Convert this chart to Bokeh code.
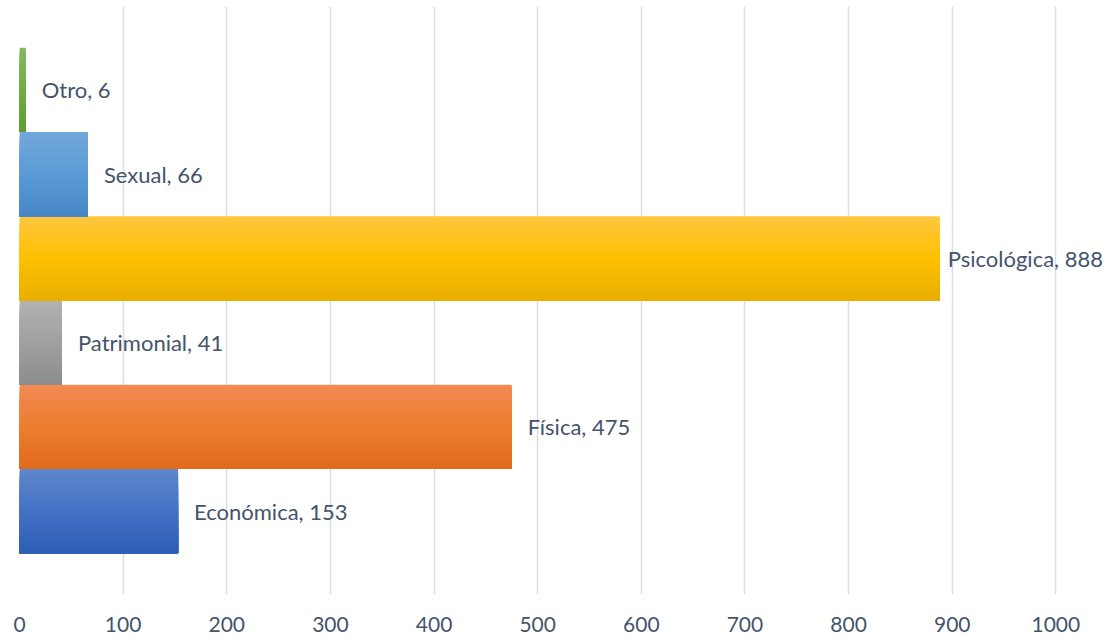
from bokeh.plotting import figure
from bokeh.models import ColumnDataSource, FactorRange, Range1d, FixedTicker
from bokeh.transform import dodge
from bokeh.core.properties import value
from bokeh.embed import file_html
from bokeh.resources import INLINE

# ---- data ----
categories = ["Económica", "Física", "Patrimonial", "Psicológica", "Sexual", "Otro"]
counts = [153, 475, 41, 888, 66, 6]
x_ticks = [0, 100, 200, 300, 400, 500, 600, 700, 800, 900, 1000]

# ---- styles ----
grad_top = ["#5F86CD", "#F28A53", "#B2B2B2", "#FFC73F", "#72A8DC", "#82BA5E"]
grad_mid = ["#4472C4", "#ED7D31", "#A0A0A0", "#FFC000", "#5B9BD5", "#70AD47"]
grad_bot = ["#2E5DB6", "#E16A1A", "#8C8C8C", "#E8AE00", "#4686C6", "#5D9C34"]
label_offsets = [16, 16, 16, 8, 16, 16]
TEXT_COLOR = "#44546A"
FONT = "Lato"


def hex2rgb(h):
    h = h.lstrip("#")
    return tuple(int(h[i:i + 2], 16) for i in (0, 2, 4))


def lerp(c1, c2, t):
    a, b = hex2rgb(c1), hex2rgb(c2)
    return "#%02x%02x%02x" % tuple(int(round(a[k] + (b[k] - a[k]) * t)) for k in range(3))


p = figure(
    width=1105, height=636,
    x_range=Range1d(0, 1045),
    y_range=FactorRange(factors=categories, range_padding=0.488, range_padding_units="absolute"),
    output_backend="svg", toolbar_location=None,
    min_border_left=19, min_border_right=3, min_border_top=6, min_border_bottom=42,
)
p.outline_line_color = None
p.background_fill_color = "white"
p.border_fill_color = "white"

# grid
p.ygrid.grid_line_color = None
p.xgrid.grid_line_color = "#D9DDE8"
p.xgrid.grid_line_width = 1.5
p.xgrid.ticker = FixedTicker(ticks=x_ticks)

# axes
p.yaxis.visible = False
p.xaxis.ticker = FixedTicker(ticks=x_ticks)
p.xaxis.axis_line_color = None
p.xaxis.major_tick_line_color = None
p.xaxis.minor_tick_line_color = None
p.xaxis.major_tick_in = 0
p.xaxis.major_tick_out = 0
p.xaxis.major_label_standoff = 22
p.xaxis.major_label_text_font = FONT
p.xaxis.major_label_text_font_size = "21px"
p.xaxis.major_label_text_color = TEXT_COLOR

# gradient bars: overlapping slices, each from its top edge to the bar bottom
N = 40
for i in range(N):
    top = 0.5 - i / N           # slice top, relative to bar centre
    centre = (top - 0.5) / 2    # slice spans top .. -0.5
    height = top + 0.5
    t = (i + 0.5) / N           # 0 = top, 1 = bottom
    if t < 0.5:
        cols = [lerp(a, b, t / 0.5) for a, b in zip(grad_top, grad_mid)]
    else:
        cols = [lerp(a, b, (t - 0.5) / 0.5) for a, b in zip(grad_mid, grad_bot)]
    src = ColumnDataSource(dict(cat=categories, val=counts, color=cols))
    p.hbar(y=dodge("cat", centre, range=p.y_range), left=0, right="val",
           height=height, fill_color="color", line_color=None, source=src)

# labels
lab_src = ColumnDataSource(dict(
    cat=categories, val=counts,
    txt=[f"{c}, {v}" for c, v in zip(categories, counts)],
    off=label_offsets,
))
p.text(x="val", y="cat", text="txt", x_offset="off", source=lab_src,
       text_font=value(FONT), text_font_size="22px", text_color=TEXT_COLOR,
       text_baseline="middle", text_align="left")

open("out.html", "w").write(file_html(p, INLINE))
